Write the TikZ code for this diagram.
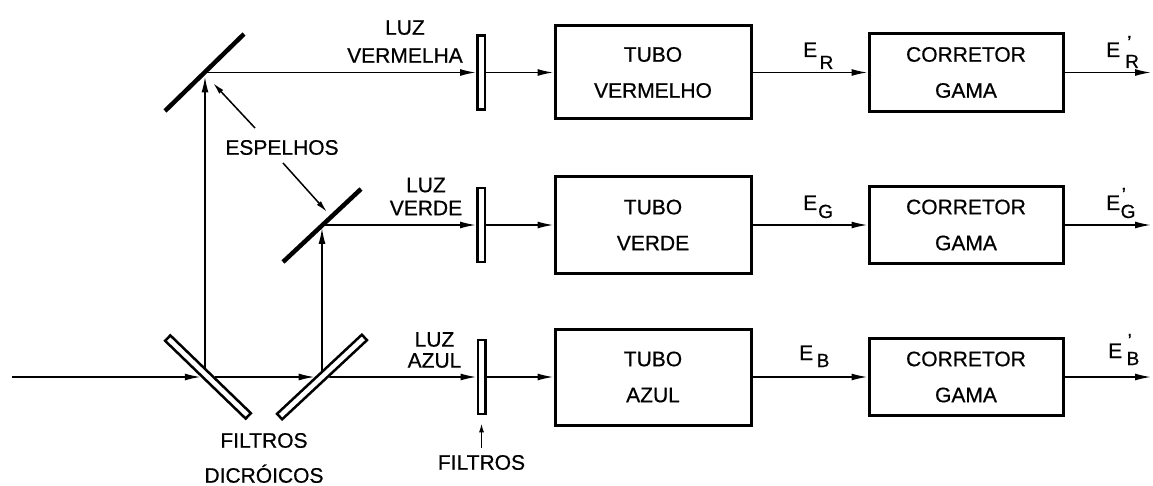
\documentclass[tikz,border=0pt]{standalone}
\usepackage{fontspec}
\setmainfont{Liberation Sans}[FakeBold=0.6]
\usetikzlibrary{arrows.meta,backgrounds}
\begin{document}
\begin{tikzpicture}[x=1pt,y=-1pt,
  lbl/.style={font=\fontsize{21}{28}\selectfont, inner sep=0pt, align=center},
  blk/.style={draw, line width=3pt, inner sep=0pt, align=center, font=\fontsize{21}{36}\selectfont},
  filt/.style={draw, fill=white, line width=2.5pt, inner sep=0pt, minimum width=7.5pt, minimum height=74pt},
  dich/.style={draw, fill=white, line width=2.5pt, inner sep=0pt, minimum height=7.5pt},
  mirror/.style={line width=4.5pt},
  conn/.style={line width=1.6pt, -{Latex[length=16pt,width=7pt]}},
  thin/.style={line width=1.5pt, -{Latex[length=12pt,width=5.5pt]}},
  sig/.style={font=\fontsize{21}{21}\selectfont, inner sep=0pt, anchor=base west}
]
% nodes
\node[dich, minimum width=112pt, rotate=-44] (d1) at (208,377) {};
\node[dich, minimum width=116pt, rotate=43] (d2) at (322,377) {};
\node[filt] (fR) at (481,72.5) {};
\node[filt] (fG) at (481,225) {};
\node[filt] (fB) at (481.5,377) {};
\node[blk, minimum width=196pt, minimum height=93pt] (tR) at (653,72.5) {TUBO\\VERMELHO};
\node[blk, minimum width=196pt, minimum height=96pt] (tG) at (653,225) {TUBO\\VERDE};
\node[blk, minimum width=196pt, minimum height=96pt] (tB) at (653,377) {TUBO\\AZUL};
\node[blk, minimum width=194pt, minimum height=78pt] (cR) at (966,72.5) {CORRETOR\\GAMA};
\node[blk, minimum width=194pt, minimum height=77pt] (cG) at (966,225) {CORRETOR\\GAMA};
\node[blk, minimum width=194pt, minimum height=77pt] (cB) at (966,377) {CORRETOR\\GAMA};
\coordinate (mR) at (205,72.5);
\coordinate (mG) at (322,225);
\coordinate (in) at (12,377);
\coordinate (oR) at (1151,72.5);
\coordinate (oG) at (1151,225);
\coordinate (oB) at (1151,377);
\coordinate (mR1) at (165,111);
\coordinate (mR2) at (244,34);
\coordinate (mG1) at (283,262);
\coordinate (mG2) at (361,189);
% labels
\node[lbl, font=\fontsize{21}{28}\selectfont] (lR) at (405,41.5) {LUZ\\VERMELHA};
\node[lbl, font=\fontsize{21}{23}\selectfont] (lG) at (426,196.5) {LUZ\\VERDE};
\node[lbl, font=\fontsize{21}{21}\selectfont] (lB) at (434.5,350) {LUZ\\AZUL};
\node[lbl] (esp) at (282,147.5) {ESPELHOS};
\node[lbl, font=\fontsize{21}{35}\selectfont] (dic) at (264,458) {FILTROS\\DICRÓICOS};
\node[lbl] (fl) at (481.5,462.5) {FILTROS};
\coordinate (eA1) at (255,128);
\coordinate (eA2) at (213,83);
\coordinate (eB1) at (283,163);
\coordinate (eB2) at (327,212);
% signal labels
\node[sig] (eR) at (803,57) {E\kern2.4pt\raisebox{-12pt}{\fontsize{19}{19}\selectfont R}};
\node[sig] (eG) at (803,210) {E\kern1pt\raisebox{-8pt}{\fontsize{19}{19}\selectfont G}};
\node[sig] (eB) at (799,360) {E\kern3.5pt\raisebox{-7pt}{\fontsize{19}{19}\selectfont B}};
\node[sig] (eRo) at (1106,57) {E\kern5pt\raisebox{-11pt}{\fontsize{19}{19}\selectfont\rlap{\kern2pt\raisebox{19pt}{'}}R}};
\node[sig] (eGo) at (1106,210) {E\kern0.5pt\raisebox{-8pt}{\fontsize{19}{19}\selectfont\rlap{\kern1pt\raisebox{17pt}{'}}G}};
\node[sig] (eBo) at (1108,358) {E\kern4.4pt\raisebox{-7pt}{\fontsize{19}{19}\selectfont\rlap{\kern1pt\raisebox{18pt}{'}}B}};
% mirrors
\draw[mirror] (mR1) -- (mR2);
\draw[mirror] (mG1) -- (mG2);
% connectors
\begin{scope}[on background layer]
\fill[white] (0,0) rectangle (1153,486);
\draw[conn] (in) -- (d1);
\draw[conn] (d1) -- (d2);
\draw[conn] (d2) -- (fB);
\draw[conn, shorten >=4pt] (mR |- d1) -- (mR);
\draw[conn, shorten >=3pt] (mG |- d2) -- (mG);
\draw[conn] (mR) -- (fR);
\draw[conn] (mG) -- (fG);
\draw[conn] (fR) -- (tR);
\draw[conn] (fG) -- (tG);
\draw[conn] (fB) -- (tB);
\draw[conn] (tR) -- (cR);
\draw[conn] (tG) -- (cG);
\draw[conn] (tB) -- (cB);
\draw[conn] (cR) -- (oR);
\draw[conn] (cG) -- (oG);
\draw[conn] (cB) -- (oB);
\draw[thin] (eA1) -- (eA2);
\draw[thin] (eB1) -- (eB2);
\draw[line width=1.5pt, -{Latex[length=9pt,width=5pt]}, shorten <=7pt, shorten >=8pt] (fl.north) -- (fB.south);
\end{scope}
\useasboundingbox (0,0) rectangle (1153,486);
\end{tikzpicture}
\end{document}
